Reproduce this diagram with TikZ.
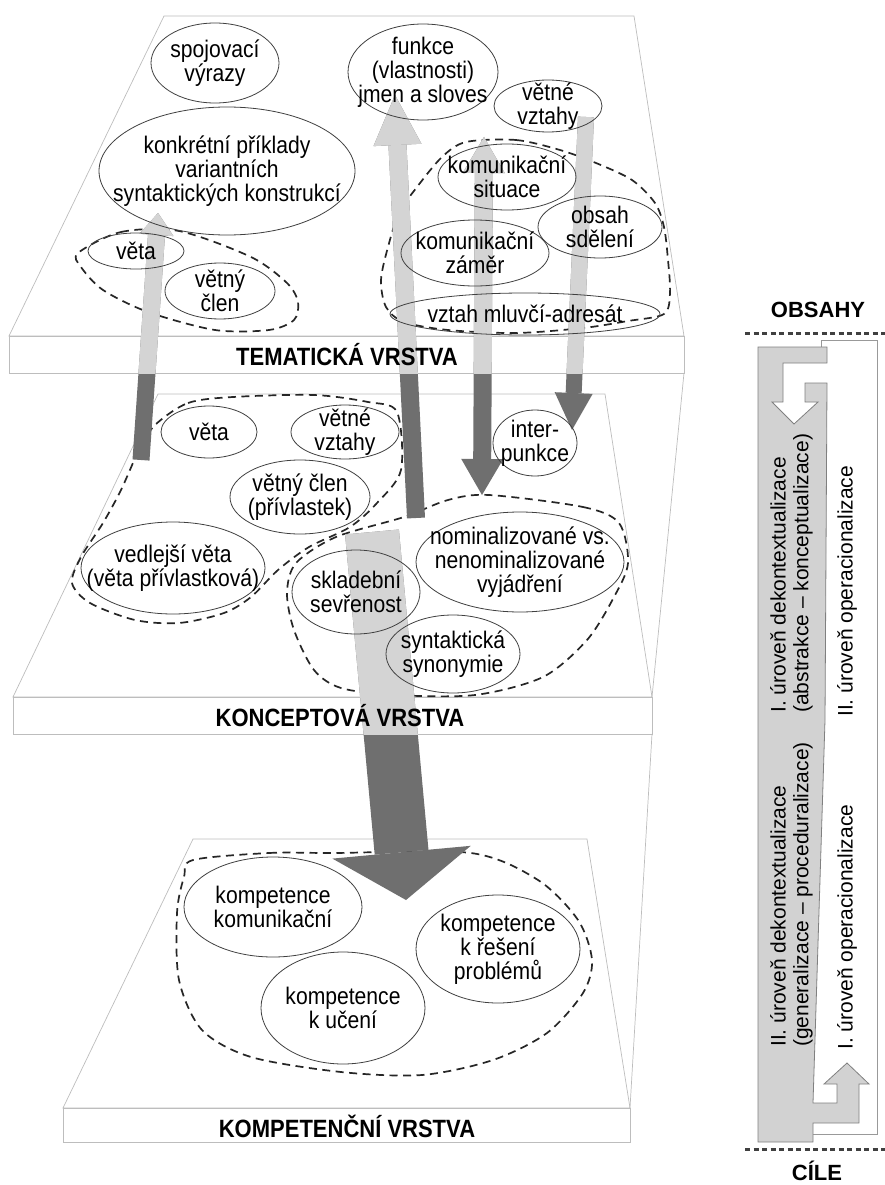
\documentclass[tikz,border=0pt]{standalone}
\usepackage{fontspec}
\setmainfont{Liberation Sans}
\newfontfamily\narrowfam{Liberation Sans}[FakeStretch=0.88]
\usetikzlibrary{shapes.geometric,arrows.meta}

\definecolor{arrdark}{HTML}{6F6F6F}
\definecolor{arrlight}{HTML}{D4D4D4}
\definecolor{barfill}{HTML}{D2D2D2}
\definecolor{edgegray}{HTML}{BDBDBD}

\newcommand{\bubfont}{\narrowfam\fontsize{24}{24}\selectfont}
\newcommand{\layerfont}{\narrowfam\fontsize{25}{27}\selectfont\bfseries}
\newcommand{\headfont}{\fontsize{22}{26}\selectfont\bfseries}
\newcommand{\sidefont}{\fontsize{21}{25}\selectfont}

\tikzset{
  layer/.style={draw=edgegray, fill=white, line width=0.7pt},
  bub/.style={ellipse, draw=black!75, line width=0.8pt, inner sep=0pt},
  bubtxt/.style={align=center, font=\bubfont, inner sep=0pt},
  blob/.style={draw=black!85, line width=1.7pt, dash pattern=on 8pt off 5.5pt},
  barrow/.style n args={3}{line width=#1, -{Triangle[width=#2,length=#3,line width=0pt]}},
  bbarrow/.style n args={3}{line width=#1, {Triangle[width=#2,length=#3,line width=0pt]}-{Triangle[width=#2,length=#3,line width=0pt]}},
  sidetxt/.style={rotate=90, anchor=west, inner sep=0pt, font=\sidefont},
  dots/.style={line width=3pt, dash pattern=on 5pt off 3.5pt, draw=black!75},
}

\begin{document}
\begin{tikzpicture}[x=1pt,y=-1pt]
\useasboundingbox (0,0) rectangle (885,1185);

% the three layers
\draw[layer] (193,839) -- (587,839) -- (630,1108) -- (63,1108) -- cycle;
\draw[layer] (63,1108) rectangle (630,1142);
\draw[layer] (158,394) -- (605,394) -- (652,697) -- (13,697) -- cycle;
\draw[layer] (13,697) rectangle (652,734);
\draw[layer] (164,16) -- (634,16) -- (684,336) -- (9,336) -- cycle;
\draw[layer] (9,336) rectangle (684,373);
\draw[edgegray, line width=0.7pt] (684,373) -- (652,697) (652,734) -- (630,1108);

% dashed groups
\draw[blob] plot[smooth cycle] coordinates {(78,253) (121,232) (179,231) (251,257) (287,283) (298,302) (294,320) (269,330) (215,330) (148,312) (103,290) (81,267)};
\draw[blob] plot[smooth cycle] coordinates {(466,142) (516,140) (560,150) (596,163) (632,180) (655,203) (664,227) (668,260) (670,293) (664,314) (628,321) (583,328) (516,333) (448,330) (404,322) (386,307) (381,280) (388,247) (399,213) (417,187) (442,157)};
\draw[blob] plot[smooth cycle] coordinates {(155,425) (188,403) (233,397) (314,395) (368,402) (397,412) (401,470) (377,503) (350,527) (309,547) (278,570) (251,597) (224,613) (179,623) (135,620) (90,603) (72,583) (81,557) (103,523) (121,490) (139,450)};
\draw[blob] plot[smooth cycle] coordinates {(489,495) (583,507) (619,523) (628,563) (614,597) (587,640) (543,677) (475,695) (395,695) (341,688) (314,670) (294,630) (287,593) (296,563) (336,537) (404,517) (448,500)};
\draw[blob] plot[smooth cycle] coordinates {(193,860) (269,853) (332,853) (471,853) (538,880) (578,920) (592,960) (583,993) (547,1033) (493,1060) (422,1075) (341,1072) (251,1057) (202,1030) (179,980) (177,913) (184,877)};

% arrow ends
\coordinate (u1s) at (141,460);
\coordinate (u1e) at (158,213);
\coordinate (u2s) at (416,518);
\coordinate (u2e) at (395,95);
\coordinate (b1t) at (484,137);
\coordinate (b1b) at (482,495);
\coordinate (d1s) at (586,117);
\coordinate (d1e) at (572,430);
\coordinate (d2s) at (372,532);
\coordinate (d2e) at (406,900);

% arrows: dark below a layer, light on it
\draw[arrdark, barrow={17pt}{34pt}{22pt}] (u1s) -- (u1e);
\draw[arrdark, barrow={18pt}{48pt}{50pt}] (u2s) -- (u2e);
\draw[arrdark, bbarrow={18pt}{42pt}{36pt}] (b1t) -- (b1b);
\draw[arrdark, barrow={16pt}{38pt}{37pt}] (d1s) -- (d1e);
\draw[arrdark, barrow={54pt}{139pt}{48pt}] (d2s) -- (d2e);
\begin{scope}
\clip (0,0) rectangle (700,373);
\draw[arrlight, barrow={17pt}{34pt}{22pt}] (u1s) -- (u1e);
\draw[arrlight, barrow={18pt}{48pt}{50pt}] (u2s) -- (u2e);
\draw[arrlight, bbarrow={18pt}{42pt}{36pt}] (b1t) -- (b1b);
\draw[arrlight, barrow={16pt}{38pt}{37pt}] (d1s) -- (d1e);
\end{scope}
\begin{scope}
\clip (0,373) rectangle (700,734);
\draw[arrlight, barrow={54pt}{139pt}{48pt}] (d2s) -- (d2e);
\end{scope}

% tematicka vrstva
\node[bub, minimum width=128pt, minimum height=80pt, label={[bubtxt]center:{spojovací\\výrazy}}] (spoj) at (215,63) {};
\node[bub, minimum width=150pt, minimum height=96pt, label={[bubtxt]center:{funkce\\(vlastnosti)\\jmen a sloves}}] (funk) at (423,72) {};
\node[bub, minimum width=108pt, minimum height=52pt, label={[bubtxt]center:{větné\\vztahy}}] (vztT) at (548,106) {};
\node[bub, minimum width=256pt, minimum height=128pt, label={[bubtxt]center:{konkrétní příklady\\variantních\\syntaktických konstrukcí}}] (konk) at (227,171) {};
\node[bub, minimum width=96pt, minimum height=36pt, label={[bubtxt]center:{věta}}] (vetT) at (136,251) {};
\node[bub, minimum width=110pt, minimum height=56pt, label={[bubtxt]center:{větný\\člen}}] (clenT) at (220,291) {};
\node[bub, minimum width=138pt, minimum height=66pt, label={[bubtxt]center:{komunikační\\situace}}] (situ) at (507,177) {};
\node[bub, minimum width=124pt, minimum height=62pt, label={[bubtxt]center:{obsah\\sdělení}}] (obsa) at (600,227) {};
\node[bub, minimum width=148pt, minimum height=66pt, label={[bubtxt]center:{komunikační\\záměr}}] (zame) at (475,253) {};
\node[bub, minimum width=270pt, minimum height=42pt, label={[bubtxt]center:{vztah mluvčí-adresát}}] (mluv) at (525,314) {};

% konceptova vrstva
\node[bub, minimum width=96pt, minimum height=52pt, label={[bubtxt]center:{věta}}] (vetK) at (209,432) {};
\node[bub, minimum width=108pt, minimum height=54pt, label={[bubtxt]center:{větné\\vztahy}}] (vztK) at (345,432) {};
\node[bub, minimum width=140pt, minimum height=74pt, label={[bubtxt]center:{větný člen\\(přívlastek)}}] (clenK) at (300,497) {};
\node[bub, minimum width=184pt, minimum height=92pt, label={[bubtxt]center:{vedlejší věta\\(věta přívlastková)}}] (vedl) at (173,568) {};
\node[bub, minimum width=84pt, minimum height=66pt, label={[bubtxt]center:{inter-\\punkce}}] (intp) at (535,443) {};
\node[bub, minimum width=208pt, minimum height=100pt, label={[bubtxt]center:{nominalizované vs.\\nenominalizované\\vyjádření}}] (nomi) at (520,562) {};
\node[bub, minimum width=128pt, minimum height=84pt, label={[bubtxt]center:{skladební\\sevřenost}}] (skla) at (356,592) {};
\node[bub, minimum width=134pt, minimum height=78pt, label={[bubtxt]center:{syntaktická\\synonymie}}] (syno) at (453,654) {};

% kompetencni vrstva
\node[bub, minimum width=178pt, minimum height=100pt, label={[bubtxt]center:{kompetence\\komunikační}}] (kkom) at (273,907) {};
\node[bub, minimum width=164pt, minimum height=108pt, label={[bubtxt]center:{kompetence\\k řešení\\problémů}}] (kres) at (498,949) {};
\node[bub, minimum width=164pt, minimum height=112pt, label={[bubtxt]center:{kompetence\\k učení}}] (kuce) at (343,1008) {};

% layer names
\node[font=\layerfont] (tema) at (347,355) {TEMATICKÁ VRSTVA};
\node[font=\layerfont] (konc) at (340,716) {KONCEPTOVÁ VRSTVA};
\node[font=\layerfont] (komp) at (347,1126) {KOMPETENČNÍ VRSTVA};

% side bar
\node[font=\headfont] (obsahy) at (818,310) {OBSAHY};
\node[font=\headfont] (cile) at (817,1171) {CÍLE};
\draw[dots] (745,333) -- (885,333);
\draw[dots] (745,1149) -- (885,1149);
\draw[draw=black!40, line width=0.8pt] (821,347) -- (821,340) -- (877,340) -- (877,1134) -- (813,1134);
\draw[draw=black!50, fill=barfill, line width=0.8pt]
  (758,347) -- (827,347) -- (827,363) -- (783,363) -- (783,402) -- (772,402) -- (794,424)
  -- (818,402) -- (805,402) -- (805,383) -- (827,383) -- (825,720) -- (813,1103)
  -- (837,1103) -- (837,1084) -- (824,1084) -- (847,1063) -- (869,1084) -- (859,1084)
  -- (859,1123) -- (813,1123) -- (813,1142) -- (758,1142) -- cycle;
\node[sidetxt] (abs1) at (778,713) {I. úroveň dekontextualizace};
\node[sidetxt] (abs2) at (803,713) {(abstrakce – konceptualizace)};
\node[sidetxt] (ope2) at (847,717) {II. úroveň operacionalizace};
\node[sidetxt] (gen1) at (778,1047) {II. úroveň dekontextualizace};
\node[sidetxt] (gen2) at (803,1047) {(generalizace – proceduralizace)};
\node[sidetxt] (ope1) at (847,1050) {I. úroveň operacionalizace};

\end{tikzpicture}
\end{document}
